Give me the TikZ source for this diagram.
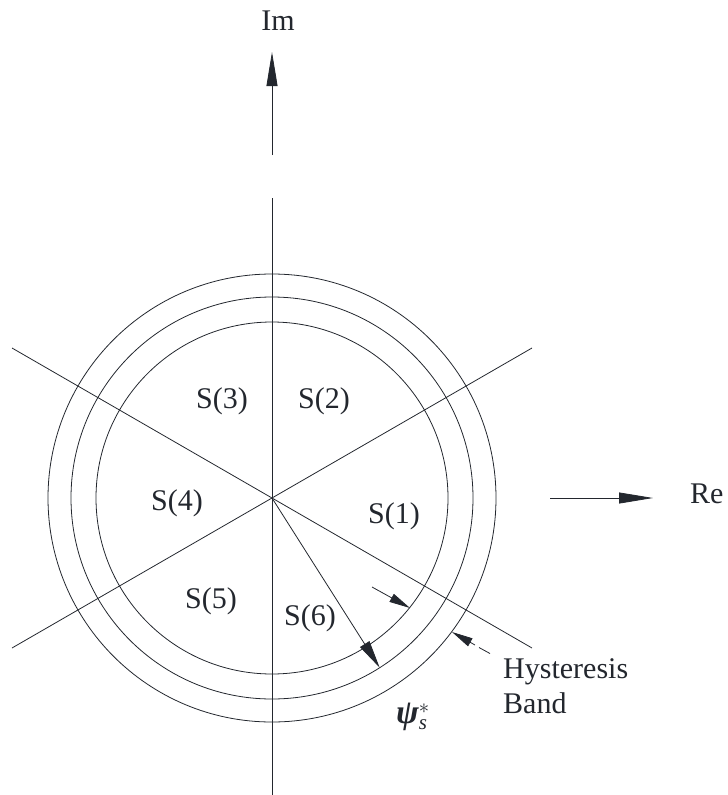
\documentclass[tikz,border=0pt]{standalone}
\usepackage{amsmath}
\usepackage{fontspec}
\setmainfont{Liberation Serif}
\usetikzlibrary{arrows.meta}
\definecolor{ink}{HTML}{23272E}
\tikzset{
  thin line/.style={draw=ink, line width=0.8pt},
  lbl/.style={text=ink, font=\fontsize{30}{35}\selectfont, inner sep=0pt, anchor=base},
  bigtip/.style={-{Triangle[length=34pt,width=11pt]}, thin line},
  midtip/.style={-{Triangle[length=28pt,width=11pt]}, thin line},
  smalltip/.style={-{Triangle[length=21pt,width=9pt]}, thin line}
}
\begin{document}
\begin{tikzpicture}[x=1pt,y=-1pt]
\useasboundingbox (0,0) rectangle (728,795);
% centre and axis line ends
\coordinate (O) at (272,498);
\coordinate (vT) at (272,198);
\coordinate (vB) at (272,798);
\coordinate (aUR) at (532,348);
\coordinate (aLL) at (12,648);
\coordinate (aUL) at (12,348);
\coordinate (aLR) at (532,648);
% circles
\draw[thin line] (O) circle[radius=176];
\draw[thin line] (O) circle[radius=201];
\draw[thin line] (O) circle[radius=224];
% sector lines
\draw[thin line] (vT) -- (vB);
\draw[thin line] (aUR) -- (aLL);
\draw[thin line] (aUL) -- (aLR);
% axis arrows
\coordinate (imTail) at (272,155);
\coordinate (imTip) at (272,52);
\draw[bigtip] (imTail) -- (imTip);
\coordinate (reTail) at (550,498);
\coordinate (reTip) at (653,498);
\draw[bigtip] (reTail) -- (reTip);
\node[lbl] (im) at (278,30) {Im};
\node[lbl, anchor=base west] (re) at (690,503) {Re};
% psi arrow
\coordinate (psiTip) at (379.7,667.7);
\draw[midtip] (O) -- (psiTip);
% hysteresis arrows
\coordinate (h1Tail) at (372,587);
\coordinate (h1Tip) at (410,608);
\draw[smalltip] (h1Tail) -- (h1Tip);
\coordinate (h2Tail) at (475,645);
\coordinate (h2Tip) at (452,632);
\draw[smalltip] (h2Tail) -- (h2Tip);
\coordinate (h2dA) at (479,647.5);
\coordinate (h2dB) at (490,653.5);
\draw[thin line] (h2dA) -- (h2dB);
% sector labels
\node[lbl] (s3) at (222,408) {S(3)};
\node[lbl] (s2) at (324,408) {S(2)};
\node[lbl] (s1) at (394,523) {S(1)};
\node[lbl] (s6) at (310,625) {S(6)};
\node[lbl] (s5) at (211,608) {S(5)};
\node[lbl] (s4) at (177,510) {S(4)};
% band label
\node[lbl, anchor=base west] (hb1) at (503,678) {Hysteresis};
\node[lbl, anchor=base west] (hb2) at (503,713) {Band};
% psi label
\node[lbl, anchor=base west] (psi) at (396,723) {{\fontsize{34}{36}\selectfont\bfseries\itshape ψ}$_{\textit{s}}^{*}$};
\end{tikzpicture}
\end{document}
